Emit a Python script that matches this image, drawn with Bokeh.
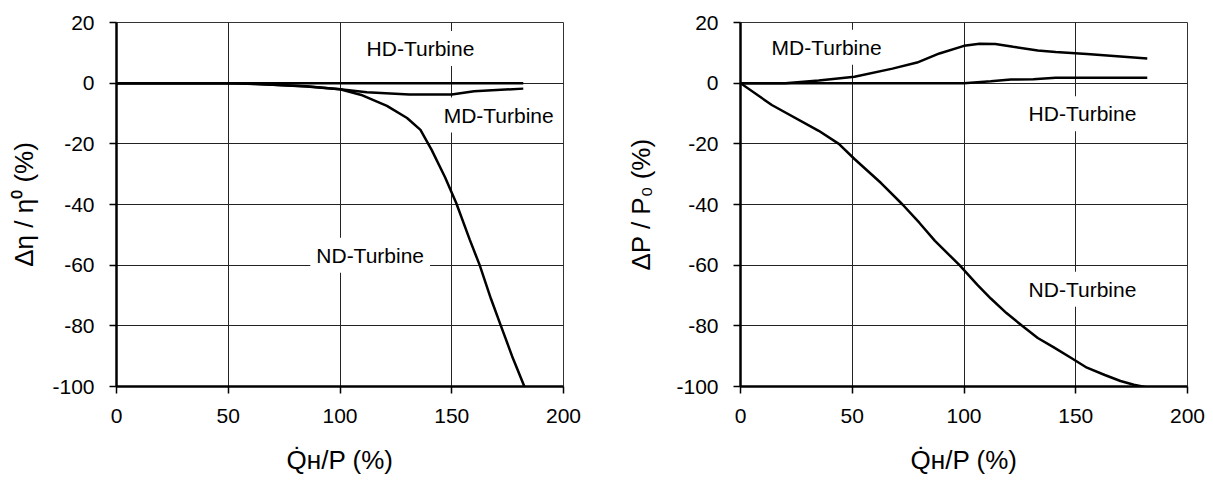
from bokeh.plotting import figure
from bokeh.layouts import row
from bokeh.models import Label, FixedTicker, Range1d
from bokeh.embed import file_html
from bokeh.resources import INLINE

# ---------------- data ----------------
x_ticks = [0, 50, 100, 150, 200]
y_ticks = [-100, -80, -60, -40, -20, 0, 20]
y_tick_text = ["-100", "-80", "-60", "-40", "-20", "0", "20"]

# left chart: efficiency change
eta_hd_x = [0, 182]
eta_hd_y = [0, 0]
eta_md_x = [0, 50, 70, 85, 100, 112, 131, 150, 160, 182]
eta_md_y = [0, 0, -0.5, -1.1, -2.0, -3.0, -3.7, -3.7, -2.7, -1.8]
eta_nd_x = [0, 55, 70, 85, 100, 110, 121, 130, 136, 141, 147, 152, 158, 162.5, 167.5, 172, 177, 182.5]
eta_nd_y = [0, 0, -0.5, -1.0, -2.0, -4.0, -7.5, -11.5, -15.4, -22, -31, -39.5, -51.5, -60, -71, -80, -90, -100]

# right chart: power change
p_hd_x = [0, 100, 112, 121, 131, 141, 182]
p_hd_y = [0, 0, 0.6, 1.2, 1.3, 1.75, 1.75]
p_md_x = [0, 20, 35, 51, 68, 79, 89, 100, 107, 114, 122, 133, 141, 155, 182]
p_md_y = [0, 0, 0.9, 2.1, 4.8, 6.8, 9.8, 12.3, 13.0, 12.9, 12.0, 10.8, 10.3, 9.6, 8.1]
p_nd_x = [0, 14, 35, 44, 51, 63, 72.5, 80, 87, 98, 106, 112, 119, 126, 133, 140, 148, 155, 163, 170, 176, 182]
p_nd_y = [0, -7.2, -15.7, -20, -25, -33, -40, -46, -52, -60, -66.5, -71, -75.8, -80, -84, -87, -90.6,
          -93.8, -96.2, -98.2, -99.4, -100.3]

left_labels = [("HD-Turbine", 136, 11.4), ("MD-Turbine", 171, -10.5), ("ND-Turbine", 113.5, -56.7)]
right_labels = [("MD-Turbine", 38.5, 11.8), ("HD-Turbine", 153, -10.1), ("ND-Turbine", 153, -67.9)]

x_label = "Q\u0307\u029c/P (%)"
left_y_label = "\u0394\u03b7 / \u03b7\u2070 (%)"
right_y_label = "\u0394P / P\u2080 (%)"

FONT = "Liberation Sans"


def make_fig(ylabel, series, labels, border_left, border_right, ylabel_standoff):
    p = figure(output_backend="svg", toolbar_location=None,
               frame_width=447, frame_height=364,
               min_border_left=border_left, min_border_right=border_right,
               min_border_top=22, min_border_bottom=80,
               x_range=Range1d(0, 200), y_range=Range1d(-100, 20))
    p.background_fill_color = "white"
    p.border_fill_color = "white"
    p.outline_line_color = "#333333"
    p.outline_line_width = 1

    p.xaxis.ticker = FixedTicker(ticks=x_ticks)
    p.yaxis.ticker = FixedTicker(ticks=y_ticks)
    p.yaxis.major_label_overrides = {t: s for t, s in zip(y_ticks, y_tick_text)}
    for ax in (p.xaxis[0], p.yaxis[0]):
        ax.axis_line_color = "black"
        ax.axis_line_width = 2.5
        ax.major_tick_line_color = "black"
        ax.major_tick_line_width = 1.5
        ax.major_tick_out = 7
        ax.major_tick_in = 0
        ax.minor_tick_line_color = None
        ax.major_label_text_font = FONT
        ax.major_label_text_font_size = "21px"
        ax.major_label_text_color = "black"
        ax.axis_label_text_font = FONT
        ax.axis_label_text_font_size = "26px"
        ax.axis_label_text_font_style = "normal"
        ax.axis_label_text_color = "black"
    p.xaxis.major_label_standoff = 15
    p.yaxis.major_label_standoff = 15
    p.xaxis.axis_label = x_label
    p.yaxis.axis_label = ylabel
    p.xaxis.axis_label_standoff = 19
    p.yaxis.axis_label_standoff = ylabel_standoff

    p.grid.grid_line_color = "#222222"
    p.grid.grid_line_width = 1
    p.xgrid.ticker = FixedTicker(ticks=x_ticks)
    p.ygrid.ticker = FixedTicker(ticks=y_ticks)

    for xs, ys in series:
        p.line(xs, ys, line_color="black", line_width=2.5)

    for txt, lx, ly in labels:
        p.add_layout(Label(x=lx, y=ly, text=txt, text_align="center", text_baseline="middle",
                           text_font=FONT, text_font_size="21px", text_color="black",
                           background_fill_color="white", padding=6))
    return p


p1 = make_fig(left_y_label,
              [(eta_hd_x, eta_hd_y), (eta_md_x, eta_md_y), (eta_nd_x, eta_nd_y)],
              left_labels, 116, 42, 10)
p2 = make_fig(right_y_label,
              [(p_hd_x, p_hd_y), (p_md_x, p_md_y), (p_nd_x, p_nd_y)],
              right_labels, 135, 22, 17)

layout = row(p1, p2)
open("out.html", "w").write(file_html(layout, INLINE))
